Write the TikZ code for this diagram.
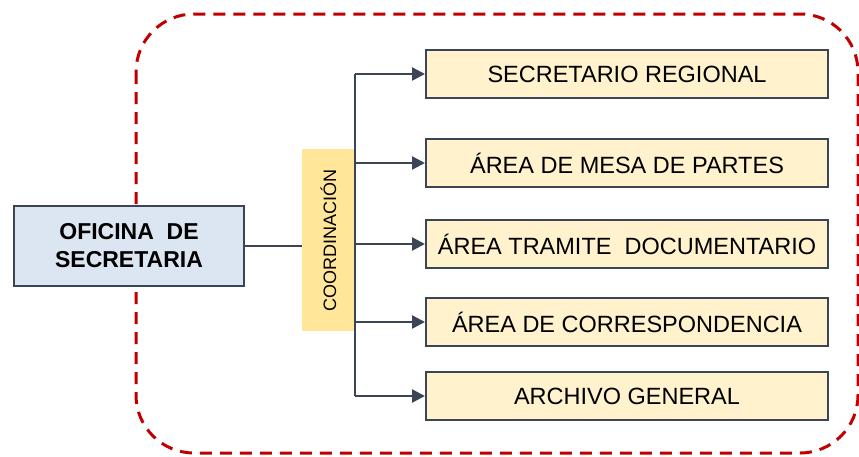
\documentclass[tikz,border=0pt]{standalone}
\usepackage{fontspec}
\setmainfont{Liberation Sans}
\usepackage{tikz}
\usetikzlibrary{arrows.meta}
\definecolor{edgegray}{HTML}{3B4556}
\definecolor{paleblue}{HTML}{DCE6F2}
\definecolor{goldfill}{HTML}{FFE699}
\definecolor{creamfill}{HTML}{FFF2CC}
\definecolor{darkred}{HTML}{C00000}

\begin{document}
\begin{tikzpicture}[x=1pt,y=-1pt,>={Triangle[length=13pt,width=13pt]},
    unitbox/.style={draw=edgegray,line width=2pt,fill=creamfill,minimum width=402pt,
      minimum height=48pt,inner sep=0pt,font=\fontsize{23.5}{27}\selectfont},
    link/.style={draw=edgegray,line width=2.4pt}]
  \useasboundingbox (0,0) rectangle (859,456);
  \draw[darkred,line width=3pt,dash pattern=on 12pt off 8pt,rounded corners=58pt]
    (136,14) rectangle (858,453);
  \node[draw=edgegray,line width=2pt,fill=paleblue,minimum width=230pt,minimum height=80pt,
    inner sep=0pt,align=center,font=\fontsize{23}{28}\selectfont\bfseries]
    (ofi) at (129,246) {OFICINA\ \ DE\\SECRETARIA};
  \node[unitbox] (b1) at (627,74) {SECRETARIO REGIONAL};
  \node[unitbox] (b2) at (627,163) {ÁREA DE MESA DE PARTES};
  \node[unitbox] (b3) at (627,244) {ÁREA TRAMITE\ \ DOCUMENTARIO};
  \node[unitbox] (b4) at (627,322) {ÁREA DE CORRESPONDENCIA};
  \node[unitbox] (b5) at (627,396) {ARCHIVO GENERAL};
  \draw[link] (ofi.east) -- (302,246);
  \node[fill=goldfill,minimum width=182pt,minimum height=53pt,inner sep=0pt,rotate=90,
    font=\fontsize{18}{20}\selectfont] (coord) at (328.5,240) {COORDINACIÓN};
  \draw[link] (coord.south |- b1.west) -- (coord.south |- b5.west);
  \foreach \i in {1,...,5}
    \draw[link,->] (coord.south |- b\i.west) -- (b\i.west);
\end{tikzpicture}
\end{document}
